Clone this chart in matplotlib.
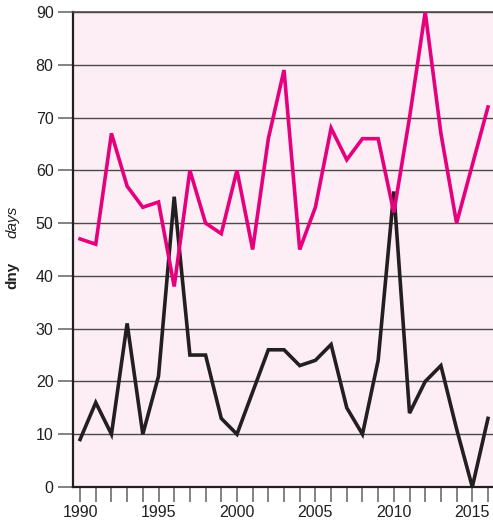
import matplotlib
matplotlib.use("Agg")
import matplotlib.pyplot as plt

years = list(range(1990, 2017))
pink_values = [47, 46, 67, 57, 53, 54, 38, 60, 50, 48, 60, 45, 66, 79, 45, 53,
               68, 62, 66, 66, 52, 70, 90, 67, 50, 61, 72]
black_values = [9, 16, 10, 31, 10, 21, 55, 25, 25, 13, 10, 18, 26, 26, 23, 24,
                27, 15, 10, 24, 56, 14, 20, 23, 11, 0, 13]
x_tick_labels = ["1990", "1995", "2000", "2005", "2010", "2015"]
y_ticks = [0, 10, 20, 30, 40, 50, 60, 70, 80, 90]

plt.rcParams['font.family'] = ['Liberation Sans', 'DejaVu Sans']

fig = plt.figure(figsize=(4.93, 5.21), dpi=100)
ax = fig.add_axes([73/493, 1 - 487/521, 1 - 73/493, (487 - 12)/521])
ax.set_facecolor('#fdeef5')

for y in y_ticks[1:]:
    ax.axhline(y, color='#4a4a4a', lw=1.0, zorder=1)

ax.plot(years, pink_values, color='#e6007e', lw=2.6, zorder=3, solid_joinstyle='miter')
ax.plot(years, black_values, color='#231f20', lw=2.6, zorder=2, solid_joinstyle='miter')

ax.set_xlim(1989.55, 2016.32)
ax.set_ylim(0, 90)

ax.set_xticks(years)
ax.set_xticklabels([str(y) if str(y) in x_tick_labels else "" for y in years])
ax.set_yticks(y_ticks)
ax.set_yticklabels([str(v) for v in y_ticks])

ax.tick_params(axis='x', direction='out', length=11, width=1.2, color='#6d6d6d',
               labelsize=11.5, labelcolor='#231f20', pad=2)
ax.tick_params(axis='y', direction='out', length=11, width=1.2, color='#6d6d6d',
               labelsize=11.5, labelcolor='#231f20', pad=3)

for s in ['right']:
    ax.spines[s].set_visible(False)
ax.spines['top'].set_color('#4a4a4a')
ax.spines['top'].set_linewidth(1.2)
ax.spines['left'].set_color('#231f20')
ax.spines['left'].set_linewidth(1.6)
ax.spines['bottom'].set_color('#231f20')
ax.spines['bottom'].set_linewidth(1.6)

fig.text(12/493, 1 - 275/521, 'dny', rotation=90, fontsize=11, fontweight='bold',
         color='#231f20', ha='center', va='center')
fig.text(12/493, 1 - 222/521, 'days', rotation=90, fontsize=11, fontstyle='italic',
         color='#231f20', ha='center', va='center')

fig.savefig('out.png', dpi=100)
